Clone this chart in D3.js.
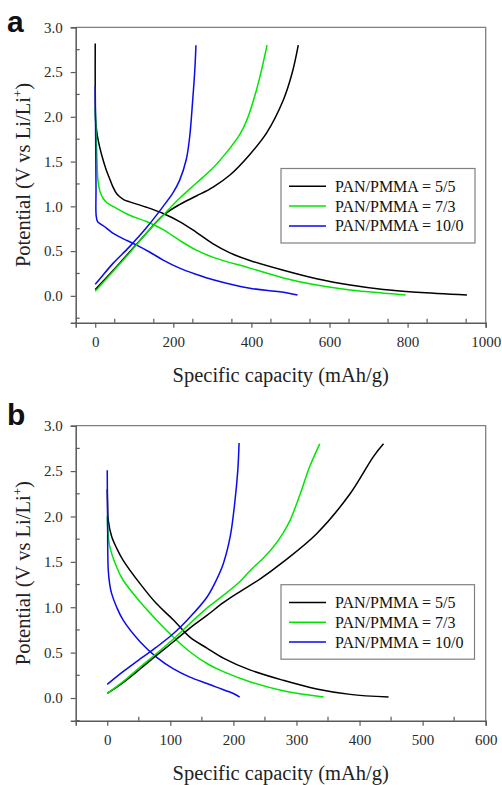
<!DOCTYPE html>
<html>
<head>
<meta charset="utf-8">
<script src="https://cdn.jsdelivr.net/npm/d3@7"></script>
<style>
  body { margin: 0; background: #fff; }
</style>
</head>
<body>
<div id="chart"></div>
<script>
// series labels + colours (same in both panels)
var seriesNames = ["PAN/PMMA = 5/5", "PAN/PMMA = 7/3", "PAN/PMMA = 10/0"];
var seriesColors = ["#000000", "#00e600", "#0a0aee"];

// panel a : [capacity mAh/g, potential V]
var a55Discharge = [[0,2.82],[0,2.3],[1,1.96],[5,1.8],[11,1.67],[20,1.52],[28,1.41],[36,1.32],[45,1.22],[55,1.14],[62,1.11],[75,1.07],[88,1.05],[131,0.99],[174,0.92],[216,0.83],[259,0.71],[302,0.58],[345,0.48],[396,0.395],[482,0.285],[567,0.19],[653,0.12],[738,0.07],[824,0.04],[952,0.01]];
var a73Discharge = [[0,2.1],[2,1.85],[4,1.59],[7,1.29],[12,1.17],[20,1.09],[30,1.04],[45,1.00],[88,0.90],[131,0.83],[174,0.74],[216,0.62],[259,0.51],[302,0.43],[396,0.31],[482,0.20],[567,0.12],[653,0.065],[738,0.03],[795,0.01]];
var a100Discharge = [[0,2.34],[1,1.8],[2,1.2],[2.5,0.89],[6,0.83],[11,0.81],[28,0.76],[45,0.70],[71,0.64],[105,0.57],[139,0.49],[174,0.40],[216,0.31],[259,0.24],[302,0.18],[396,0.085],[473,0.045],[518,0.01]];
var a55Charge = [[0,0.07],[45,0.28],[88,0.49],[131,0.70],[174,0.90],[216,1.02],[259,1.115],[302,1.215],[345,1.35],[396,1.58],[439,1.82],[482,2.19],[505,2.50],[520,2.80]];
var a73Charge = [[0,0.05],[45,0.27],[88,0.48],[131,0.70],[174,0.90],[216,1.09],[259,1.26],[302,1.43],[345,1.65],[370,1.80],[388,1.96],[413,2.30],[430,2.60],[440,2.80]];
var a100Charge = [[0,0.13],[10,0.18],[45,0.36],[88,0.55],[131,0.76],[174,1.00],[199,1.15],[216,1.29],[233,1.52],[242,1.78],[249,2.15],[255,2.52],[258,2.80]];

// panel b
var b55Discharge = [[0,2.3],[0.5,2.15],[1.6,1.96],[7,1.78],[15,1.65],[25,1.52],[52,1.26],[78,1.04],[105,0.86],[131,0.67],[158,0.55],[184,0.44],[226,0.31],[279,0.195],[332,0.10],[385,0.04],[446,0.01]];
var b73Discharge = [[0,2.0],[1,1.85],[4,1.67],[15,1.44],[25,1.30],[52,1.06],[78,0.86],[105,0.67],[131,0.51],[158,0.38],[184,0.29],[226,0.18],[279,0.08],[343,0.01]];
var b100Discharge = [[0,2.51],[0.5,2.0],[1.6,1.41],[4,1.25],[7,1.15],[15,1.00],[25,0.86],[52,0.62],[78,0.45],[105,0.32],[131,0.23],[158,0.16],[173,0.12],[200,0.05],[210,0.01]];
var b55Charge = [[0,0.05],[25,0.17],[52,0.32],[78,0.47],[105,0.62],[131,0.77],[158,0.91],[184,1.05],[210,1.17],[242,1.31],[279,1.50],[332,1.81],[385,2.25],[422,2.66],[438,2.80]];
var b73Charge = [[0,0.05],[25,0.18],[52,0.34],[78,0.49],[105,0.65],[131,0.82],[158,0.99],[184,1.13],[210,1.28],[226,1.40],[250,1.56],[263,1.66],[279,1.82],[290,1.96],[306,2.25],[321,2.55],[337,2.80]];
var b100Charge = [[0,0.15],[25,0.29],[52,0.43],[78,0.56],[105,0.71],[131,0.89],[158,1.11],[173,1.30],[184,1.48],[195,1.78],[202,2.14],[207,2.51],[209,2.81]];

// axis ticks
var yTicks = [0, 0.5, 1.0, 1.5, 2.0, 2.5, 3.0];
var aXTicks = [0, 200, 400, 600, 800, 1000];
var bXTicks = [0, 100, 200, 300, 400, 500, 600];

var W = 502, H = 785;
var serif = "'Liberation Serif', 'Times New Roman', serif";
var svg = d3.select("#chart").append("svg")
    .attr("width", W).attr("height", H);

function drawPanel(opt) {
    var x = d3.scaleLinear().domain(opt.xDomain).range([75.7, 485.7]);
    var y = d3.scaleLinear().domain(opt.yDomain).range([opt.bottom, opt.top]);
    var g = svg.append("g");
    var axisCol = "#5a5a5a";

    // curves
    var line = d3.line()
        .x(function(d) { return x(d[0]); })
        .y(function(d) { return y(d[1]); })
        .curve(d3.curveCatmullRom.alpha(0.5));
    opt.curves.forEach(function(c) {
        g.append("path").datum(c.data)
            .attr("d", line)
            .attr("fill", "none")
            .attr("stroke", seriesColors[c.s])
            .attr("stroke-width", 1.5);
    });

    // frame top + right
    g.append("path")
        .attr("d", "M" + x.range()[0] + "," + opt.top + "H" + x.range()[1] + "V" + opt.bottom)
        .attr("fill", "none").attr("stroke", "#808080").attr("stroke-width", 1.3);

    // minor ticks (inside)
    var xMinor = d3.range(opt.xDomain[0], opt.xDomain[1] + 1, opt.xMinorStep)
        .filter(function(v) { return v >= 0 && opt.xTicks.indexOf(v) < 0; });
    g.selectAll(".xm").data(xMinor).enter().append("line")
        .attr("x1", function(d) { return x(d); }).attr("x2", function(d) { return x(d); })
        .attr("y1", opt.bottom).attr("y2", opt.bottom - 4)
        .attr("stroke", axisCol).attr("stroke-width", 1.2);
    var yMinor = [-0.25, 0.25, 0.75, 1.25, 1.75, 2.25, 2.75];
    g.selectAll(".ym").data(yMinor).enter().append("line")
        .attr("x1", 75.7).attr("x2", 75.7 + 4)
        .attr("y1", function(d) { return y(d); }).attr("y2", function(d) { return y(d); })
        .attr("stroke", axisCol).attr("stroke-width", 1.2);

    // axes
    var xAxis = g.append("g").attr("transform", "translate(0," + opt.bottom + ")")
        .call(d3.axisBottom(x).tickValues(opt.xTicks).tickSize(5).tickPadding(9).tickFormat(d3.format("d")));
    var yAxis = g.append("g").attr("transform", "translate(75.7,0)")
        .call(d3.axisLeft(y).tickValues(yTicks).tickSize(5).tickPadding(8).tickFormat(d3.format(".1f")));
    [xAxis, yAxis].forEach(function(ax) {
        ax.attr("font-family", null).attr("font-size", null);
        ax.select(".domain").attr("stroke", axisCol).attr("stroke-width", 1.5);
        ax.selectAll(".tick line").attr("stroke", axisCol).attr("stroke-width", 1.2);
        ax.selectAll(".tick text")
            .style("font-family", serif)
            .style("font-size", "15px").attr("fill", "#2a2a2a");
    });

    // titles
    g.append("text")
        .attr("x", 280.7).attr("y", opt.xTitleY)
        .attr("text-anchor", "middle")
        .style("font-family", serif).style("font-size", "20.5px").attr("fill", "#222")
        .text("Specific capacity (mAh/g)");
    var yt = g.append("text")
        .attr("transform", "translate(30," + ((opt.top + opt.bottom) / 2) + ") rotate(-90)")
        .attr("text-anchor", "middle")
        .style("font-family", serif).style("font-size", "20.5px").attr("fill", "#222");
    yt.append("tspan").text("Potential (V vs Li/Li");
    yt.append("tspan").attr("dy", -8).style("font-size", "13px").text("+");
    yt.append("tspan").attr("dy", 8).text(")");

    // panel letter
    g.append("text")
        .attr("x", 7).attr("y", opt.letterY)
        .style("font-family", "'Liberation Sans', Arial, sans-serif")
        .style("font-weight", "bold").style("font-size", "30px").attr("fill", "#111")
        .text(opt.letter);

    // legend
    var lg = g.append("g");
    lg.append("rect")
        .attr("x", 281).attr("y", opt.legTop)
        .attr("width", opt.legW).attr("height", 74.5)
        .attr("fill", "#fff").attr("stroke", "#808080").attr("stroke-width", 1.2);
    seriesNames.forEach(function(name, i) {
        var ly = opt.legTop + 17.8 + i * 19.8;
        lg.append("line")
            .attr("x1", 289).attr("x2", 326).attr("y1", ly).attr("y2", ly)
            .attr("stroke", seriesColors[i]).attr("stroke-width", 1.5);
        lg.append("text")
            .attr("x", 335).attr("y", ly + 5.5)
            .style("font-family", serif).style("font-size", "16px").attr("fill", "#111")
            .text(name);
    });
}

drawPanel({
    letter: "a", letterY: 32, top: 27.3, bottom: 322.7,
    xDomain: [-50, 1000], yDomain: [-0.3, 3.0],
    xTicks: aXTicks, xMinorStep: 100,
    xTitleY: 382, legTop: 168.5, legW: 194,
    curves: [
        {s: 0, data: a55Discharge}, {s: 1, data: a73Discharge}, {s: 2, data: a100Discharge},
        {s: 0, data: a55Charge}, {s: 1, data: a73Charge}, {s: 2, data: a100Charge}
    ]
});

drawPanel({
    letter: "b", letterY: 425, top: 425.7, bottom: 720.7,
    xDomain: [-50, 600], yDomain: [-0.25, 3.0],
    xTicks: bXTicks, xMinorStep: 50,
    xTitleY: 780, legTop: 584.7, legW: 193.5,
    curves: [
        {s: 0, data: b55Discharge}, {s: 1, data: b73Discharge}, {s: 2, data: b100Discharge},
        {s: 0, data: b55Charge}, {s: 1, data: b73Charge}, {s: 2, data: b100Charge}
    ]
});
</script>
</body>
</html>
